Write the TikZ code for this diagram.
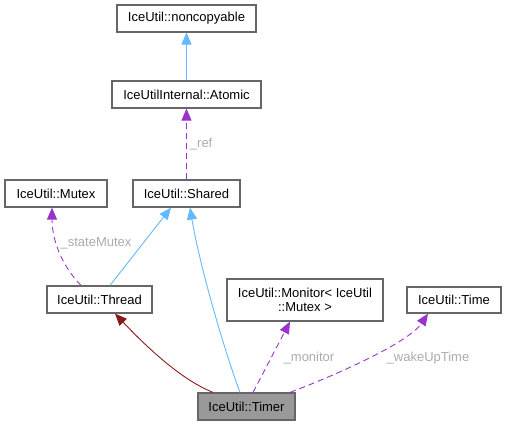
\documentclass[tikz,border=0pt]{standalone}
\usepackage{fontspec}
\setmainfont{Liberation Sans}
\usetikzlibrary{arrows.meta}
\definecolor{inhblue}{HTML}{63B8FF}
\definecolor{usepurple}{HTML}{9A32CD}
\definecolor{privred}{HTML}{8B1A1A}
\definecolor{boxborder}{HTML}{666666}
\definecolor{curfill}{HTML}{999999}
\definecolor{lblgray}{HTML}{ABABAB}
\tikzset{
  cls/.style={draw=boxborder, line width=1.2pt, fill=white, inner sep=0pt, align=center, font=\fontsize{13}{14.5}\selectfont},
  inh/.style={-{Triangle[length=12pt,width=10pt,fill=inhblue]}, draw=inhblue, line width=0.9pt},
  usage/.style={-{Triangle[length=12pt,width=10pt,fill=usepurple,sep=0pt]}, draw=usepurple, line width=0.9pt, dash pattern=on 6pt off 4pt},
  priv/.style={-{Triangle[length=12pt,width=10pt,fill=privred]}, draw=privred, line width=0.9pt},
  lbl/.style={text=lblgray, font=\fontsize{13}{14.5}\selectfont, inner sep=0pt}
}
\begin{document}
\begin{tikzpicture}[x=1pt,y=-1pt]
\useasboundingbox (0,0) rectangle (507,425);
\node[cls, minimum width=139pt, minimum height=27pt] (nc) at (186.5,18.5) {IceUtil::noncopyable};
\node[cls, minimum width=149pt, minimum height=27pt] (at) at (186.5,94.5) {IceUtilInternal::Atomic};
\node[cls, minimum width=102pt, minimum height=27pt] (mu) at (56,193.5) {IceUtil::Mutex};
\node[cls, minimum width=107pt, minimum height=27pt] (sh) at (186.5,193.5) {IceUtil::Shared};
\node[cls, minimum width=105pt, minimum height=27pt] (th) at (99.5,299.5) {IceUtil::Thread};
\node[cls, minimum width=156pt, minimum height=42pt] (mo) at (305,300) {IceUtil::Monitor< IceUtil\\::Mutex >};
\node[cls, minimum width=94pt, minimum height=26pt] (ti) at (454,300) {IceUtil::Time};
\node[cls, fill=curfill, minimum width=97pt, minimum height=27pt] (tm) at (246.5,406.5) {IceUtil::Timer};

\draw[inh] (at.north) -- (nc.south);
\draw[usage] (sh.north) -- node[lbl, pos=0.5, right=3pt] {\_ref} (at.south);
\draw[usage] ([xshift=-18.5pt]th.north) .. controls +(-16,-16) and +(0,36) .. ([xshift=-4pt]mu.south);
\node[lbl] (lsm) at (96,243) {\_stateMutex};
\draw[inh] ([xshift=10.5pt]th.north) -- ([xshift=-15.5pt]sh.south);
\draw[inh] ([xshift=-6.5pt]tm.north) .. controls +(-15,-40) and +(10,60) .. ([xshift=3.5pt]sh.south);
\draw[priv] ([xshift=-33.5pt]tm.north) .. controls +(-30,-12) and +(35,37) .. ([xshift=15.5pt]th.south);
\draw[usage] ([xshift=6.5pt]tm.north) -- ([xshift=-15pt]mo.south);
\node[lbl] (lmo) at (309,358) {\_monitor};
\draw[usage] ([xshift=43.5pt]tm.north) .. controls +(40,-15) and +(-20,30) .. ([xshift=-26pt]ti.south);
\node[lbl] (lwu) at (428,358) {\_wakeUpTime};
\end{tikzpicture}
\end{document}
